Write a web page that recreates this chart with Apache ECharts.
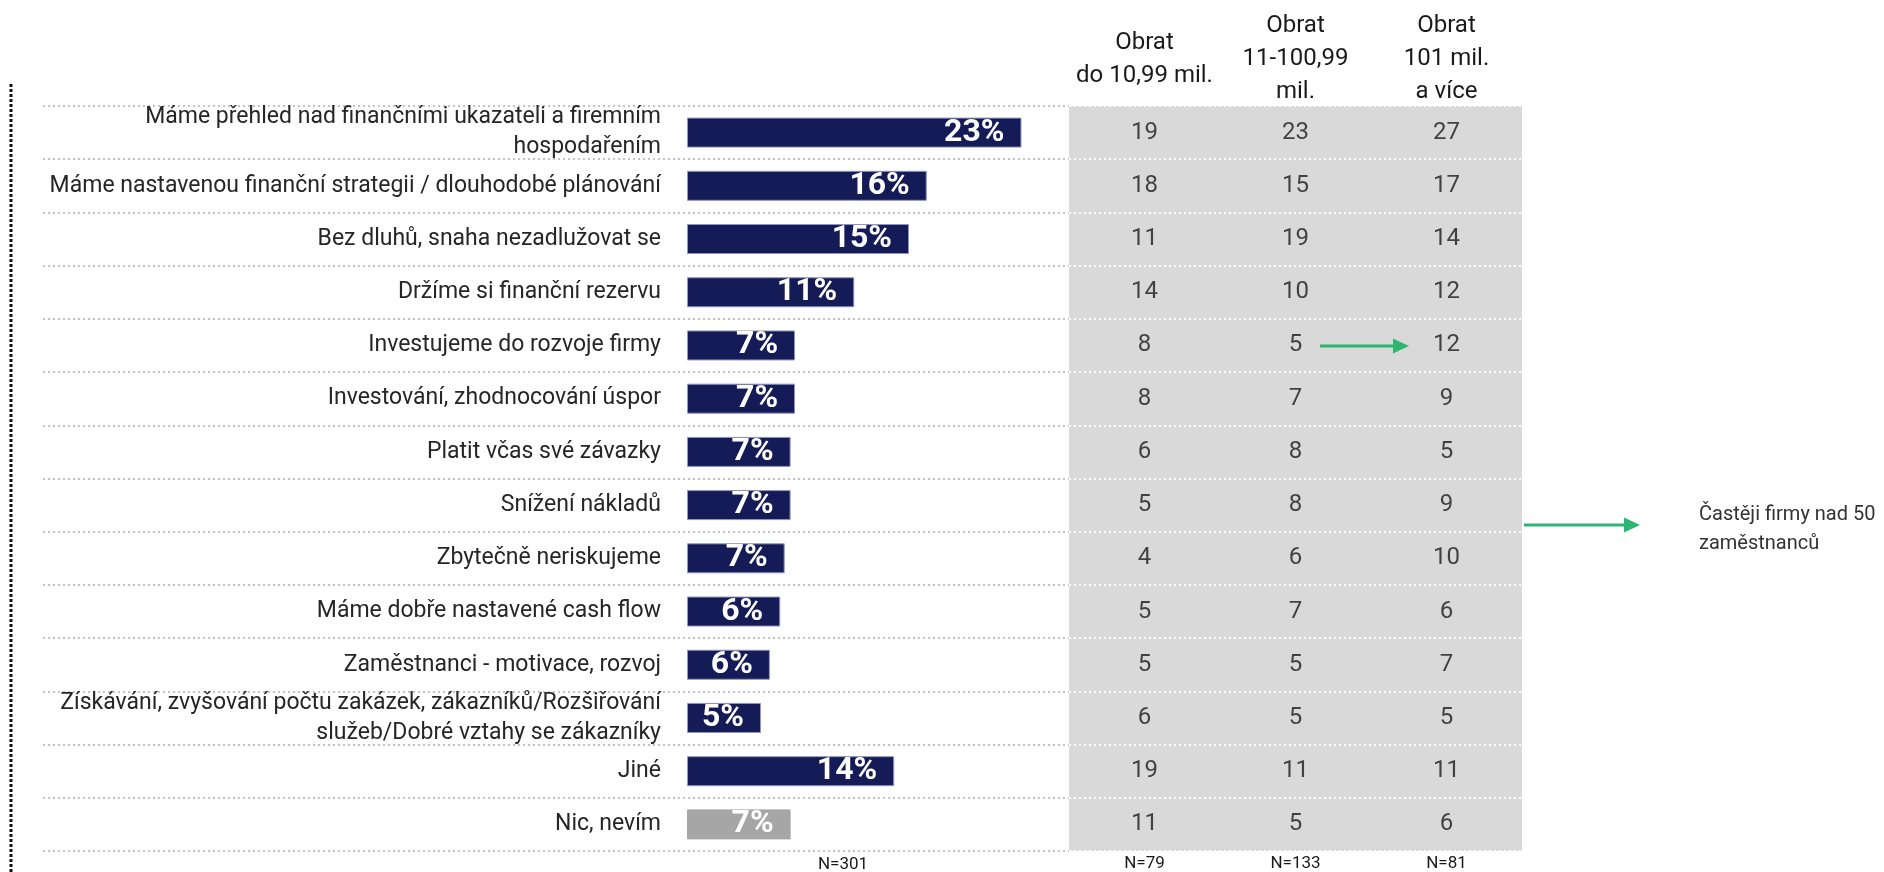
<!DOCTYPE html>
<html>
<head>
<meta charset="utf-8">
<script src="https://cdn.jsdelivr.net/npm/echarts@6/dist/echarts.min.js"></script>
<style>
html, body { margin: 0; padding: 0; background: #fff; }
#chartBox { width: 1884px; height: 872px; }
</style>
</head>
<body>
<div id="chartBox"></div>
<script>
// ----- data -----
var categories = [
  'Máme přehled nad finančními ukazateli a firemním\nhospodařením',
  'Máme nastavenou finanční strategii / dlouhodobé plánování',
  'Bez dluhů, snaha nezadlužovat se',
  'Držíme si finanční rezervu',
  'Investujeme do rozvoje firmy',
  'Investování, zhodnocování úspor',
  'Platit včas své závazky',
  'Snížení nákladů',
  'Zbytečně neriskujeme',
  'Máme dobře nastavené cash flow',
  'Zaměstnanci - motivace, rozvoj',
  'Získávání, zvyšování počtu zakázek, zákazníků/Rozšiřování\nslužeb/Dobré vztahy se zákazníky',
  'Jiné',
  'Nic, nevím'
]
// celkem (%)
var totalPct = [22.6, 16.2, 15.0, 11.3, 7.3, 7.3, 7.0, 7.0, 6.6, 6.3, 5.6, 5.0, 14.0, 7.0]
// table columns by turnover
var turnoverHeads = ['Obrat\ndo 10,99 mil.', 'Obrat\n11-100,99\nmil.', 'Obrat\n101 mil.\na více']
var turnoverSmall = [19, 18, 11, 14, 8, 8, 6, 5, 4, 5, 5, 6, 19, 11]
var turnoverMid = [23, 15, 19, 10, 5, 7, 8, 8, 6, 7, 5, 5, 11, 5]
var turnoverLarge = [27, 17, 14, 12, 12, 9, 5, 9, 10, 6, 7, 5, 11, 6]
var turnoverN = ['N=79', 'N=133', 'N=81']
var totalN = 'N=301'
var noteText = 'Častěji firmy nad 50\nzaměstnanců'

// ----- layout -----
var FONT = 'Roboto, "Noto Sans", sans-serif'
var NAVY = '#141B57'
var GREY_BAR = '#A6A6A6'
var gridLeft = 43
var barStart = 687
var tableLeft = 1069
var tableRight = 1522
var pxPerPct = 14.8

var barData = totalPct.map(function (v, i) {
  if (i === totalPct.length - 1) {
    return { value: v, itemStyle: { color: GREY_BAR, borderColor: GREY_BAR } }
  }
  return v
})

var tableCols = [turnoverSmall, turnoverMid, turnoverLarge]
var tableData = []
tableCols.forEach(function (col, c) {
  col.forEach(function (v, r) {
    tableData.push([c, r, v])
  })
})

var myChart = echarts.init(document.getElementById('chartBox'))

var option = {
  animation: false,
  textStyle: { fontFamily: FONT },
  grid: [
    // bars + labels
    { left: gridLeft, right: 1884 - tableLeft, top: 106, bottom: 21, containLabel: false },
    // table
    { left: tableLeft, right: 1884 - tableRight, top: 106, bottom: 21, show: true, backgroundColor: '#D9D9D9', borderWidth: 0 }
  ],
  xAxis: [
    {
      gridIndex: 0,
      type: 'value',
      min: -(barStart - gridLeft) / pxPerPct,
      max: (tableLeft - barStart) / pxPerPct,
      show: false
    },
    {
      gridIndex: 1,
      type: 'category',
      position: 'top',
      data: turnoverHeads,
      axisLine: { show: false },
      axisTick: { show: false },
      axisLabel: {
        interval: 0,
        margin: 47,
        verticalAlign: 'middle',
        fontSize: 24,
        lineHeight: 33,
        color: '#1a1a1a',
        fontFamily: FONT
      },
      splitLine: { show: false }
    },
    {
      gridIndex: 1,
      type: 'category',
      position: 'bottom',
      data: turnoverN,
      axisLine: { show: false },
      axisTick: { show: false },
      axisLabel: { interval: 0, margin: 4, fontSize: 17, color: '#1a1a1a', fontFamily: FONT },
      splitLine: { show: false }
    }
  ],
  yAxis: [
    {
      gridIndex: 0,
      type: 'category',
      inverse: true,
      data: categories,
      axisLine: { show: false },
      axisTick: { show: false },
      axisLabel: {
        inside: true,
        interval: 0,
        margin: 661 - gridLeft,
        align: 'right',
        fontSize: 23,
        lineHeight: 30,
        color: '#262626',
        fontFamily: FONT
      },
      splitLine: {
        show: true,
        lineStyle: { color: '#C4C4C4', width: 2, type: [2, 3] }
      }
    },
    {
      gridIndex: 1,
      type: 'category',
      inverse: true,
      data: categories,
      axisLine: { show: false },
      axisTick: { show: false },
      axisLabel: { show: false },
      splitLine: {
        show: true,
        lineStyle: { color: '#ffffff', width: 2, type: [2, 3] }
      }
    }
  ],
  series: [
    {
      name: 'Celkem',
      type: 'bar',
      xAxisIndex: 0,
      yAxisIndex: 0,
      data: barData,
      barWidth: 30,
      itemStyle: { color: NAVY, borderColor: '#8F95BC', borderWidth: 1 },
      label: {
        show: true,
        position: 'insideRight',
        distance: 17,
        color: '#fff',
        fontSize: 32,
        fontWeight: 'bold',
        fontFamily: FONT,
        formatter: function (p) { return Math.round(p.value) + '%' }
      }
    },
    {
      name: 'Obrat',
      type: 'scatter',
      xAxisIndex: 1,
      yAxisIndex: 1,
      data: tableData,
      symbolSize: 1,
      itemStyle: { color: 'transparent' },
      label: {
        show: true,
        position: 'inside',
        color: '#1a1a1a',
        fontSize: 24,
        fontFamily: FONT,
        formatter: function (p) { return p.value[2] }
      }
    }
  ],
  graphic: [
    // left dotted frame line
    {
      type: 'line',
      shape: { x1: 11, y1: 84, x2: 11, y2: 872 },
      style: { stroke: '#111', lineWidth: 3, lineDash: [3, 2] }
    },
    {
      type: 'text',
      x: 843, y: 856,
      style: { text: totalN, fill: '#1a1a1a', fontSize: 17, fontFamily: FONT, align: 'center', textAlign: 'center', verticalAlign: 'top', textVerticalAlign: 'top' }
    },
    // green arrows
    {
      type: 'line',
      shape: { x1: 1320, y1: 346, x2: 1395, y2: 346 },
      style: { stroke: '#2DB673', lineWidth: 3 }
    },
    {
      type: 'polygon',
      shape: { points: [[1393, 338.5], [1409, 346], [1393, 353.5]] },
      style: { fill: '#2DB673' }
    },
    {
      type: 'line',
      shape: { x1: 1524, y1: 525, x2: 1626, y2: 525 },
      style: { stroke: '#2DB673', lineWidth: 3 }
    },
    {
      type: 'polygon',
      shape: { points: [[1624, 517.5], [1640, 525], [1624, 532.5]] },
      style: { fill: '#2DB673' }
    },
    {
      type: 'text',
      x: 1699, y: 529,
      style: { text: noteText, fill: '#333', fontSize: 20, lineHeight: 29, fontFamily: FONT, align: 'left', textAlign: 'left', verticalAlign: 'middle', textVerticalAlign: 'middle' }
    }
  ]
}

myChart.setOption(option)
</script>
</body>
</html>
